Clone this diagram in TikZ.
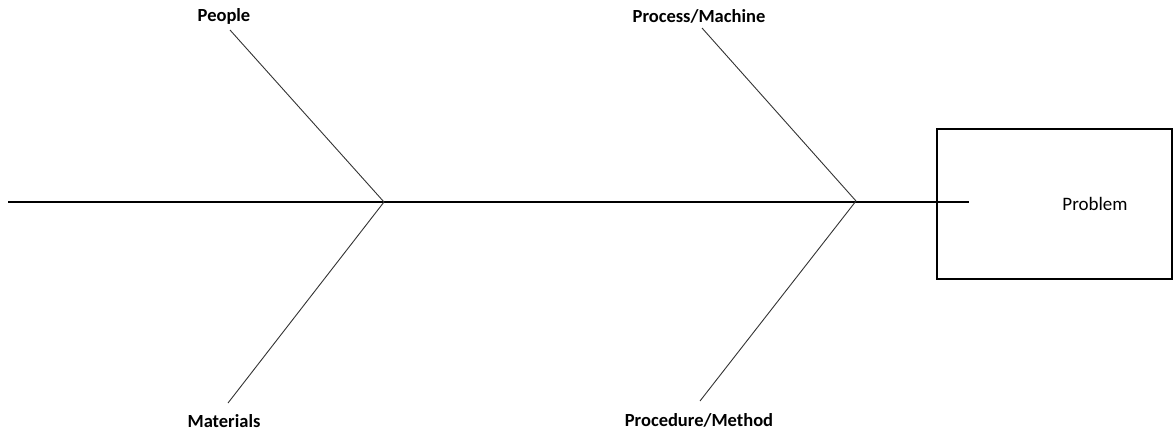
\documentclass[tikz,border=0pt]{standalone}
\usepackage{fontspec}
\setmainfont{Carlito}
\usetikzlibrary{positioning}

\begin{document}
\begin{tikzpicture}[x=1pt,y=-1pt,
    lbl/.style={font=\fontsize{18.5}{21}\selectfont\bfseries, inner sep=0pt},
    bone/.style={draw=black!80, line width=0.9pt}]

    \useasboundingbox (0,0) rectangle (1174,431);

    \node[draw, line width=2pt, minimum width=235pt, minimum height=150pt] (box) at (1054.5,204) {};
    \node[font=\fontsize{19}{22}\selectfont, inner sep=0pt] (problem) at (1095,204) {Problem};

    \coordinate (tail) at (8,202);
    \coordinate (head) at (969,202);
    \coordinate (j1) at (384,202);
    \coordinate (j2) at (856,201);

    \node[lbl] (people) at (224,16) {People};
    \node[lbl] (materials) at (224,421) {Materials};
    \node[lbl] (process) at (699,16) {Process/Machine};
    \node[lbl] (procedure) at (699,420) {Procedure/Method};

    \coordinate (e1) at (230,30);
    \coordinate (e2) at (228,403);
    \coordinate (e3) at (702,28);
    \coordinate (e4) at (700,401);

    \draw[line width=2pt] (tail) -- (head);

    \path[bone] (e1) edge (j1);
    \path[bone] (e2) edge (j1);
    \path[bone] (e3) edge (j2);
    \path[bone] (e4) edge (j2);

\end{tikzpicture}
\end{document}
